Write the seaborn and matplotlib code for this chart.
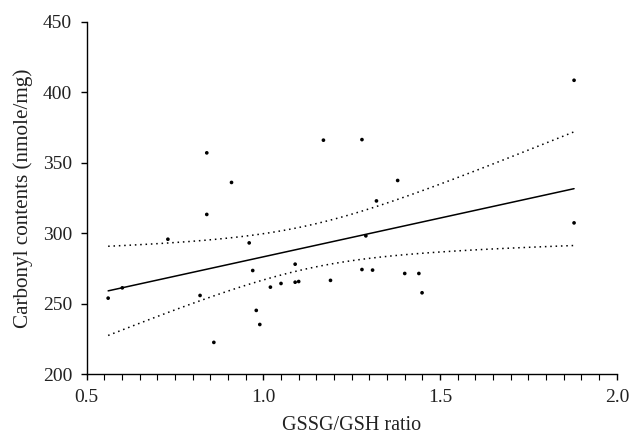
import numpy as np
import pandas as pd
import matplotlib
matplotlib.use('Agg')
import matplotlib.pyplot as plt
from matplotlib.ticker import MultipleLocator
import seaborn as sns

# GSSG/GSH ratio vs carbonyl contents
ratio = [0.561, 0.601, 0.730, 0.840, 0.840, 0.910, 0.821, 0.860, 0.960, 0.970,
         0.980, 0.990, 1.020, 1.050, 1.090, 1.090, 1.100, 1.170, 1.190, 1.279,
         1.279, 1.290, 1.309, 1.320, 1.380, 1.400, 1.440, 1.449, 1.879, 1.879]
carbonyl = [253.9, 261.2, 295.7, 357.0, 313.3, 336.0, 255.8, 222.5, 293.1, 273.5,
            245.2, 235.2, 261.7, 264.3, 278.0, 265.2, 265.7, 366.0, 266.5, 366.4,
            274.2, 298.1, 273.8, 322.9, 337.4, 271.4, 271.4, 257.7, 408.5, 307.3]
x_ticks = [0.5, 1.0, 1.5, 2.0]
y_ticks = [200, 250, 300, 350, 400, 450]

df = pd.DataFrame({'ratio': ratio, 'carbonyl': carbonyl})

# least squares fit + 95% confidence band of the mean
x = df['ratio'].values
y = df['carbonyl'].values
n = len(x)
b1, b0 = np.polyfit(x, y, 1)
resid = y - (b0 + b1 * x)
s = np.sqrt(np.sum(resid ** 2) / (n - 2))
t_crit = 2.048  # t(0.975, df=28)
xs = np.linspace(x.min(), x.max(), 100)
yhat = b0 + b1 * xs
se = s * np.sqrt(1 / n + (xs - x.mean()) ** 2 / np.sum((x - x.mean()) ** 2))
fit = pd.DataFrame({'x': xs, 'fit': yhat, 'lo': yhat - t_crit * se, 'hi': yhat + t_crit * se})

sns.set_style('ticks')
plt.rcParams['font.family'] = ['Liberation Serif', 'DejaVu Serif']
plt.rcParams['font.size'] = 13

fig = plt.figure(figsize=(6.32, 4.36), dpi=100)
ax = fig.add_axes([0.137, 0.142, 0.839, 0.808])

sns.scatterplot(data=df, x='ratio', y='carbonyl', ax=ax, color='black', s=7,
                edgecolor='none', zorder=3)
sns.lineplot(data=fit, x='x', y='fit', ax=ax, color='black', lw=1.1)
sns.lineplot(data=fit, x='x', y='lo', ax=ax, color='black', lw=1.1, linestyle=(0, (1, 2.5)))
sns.lineplot(data=fit, x='x', y='hi', ax=ax, color='black', lw=1.1, linestyle=(0, (1, 2.5)))

ax.set_xlim(0.5, 2.0)
ax.set_ylim(200, 450)
ax.set_xticks(x_ticks)
ax.set_xticklabels([f'{v:.1f}' for v in x_ticks])
ax.set_yticks(y_ticks)
ax.xaxis.set_minor_locator(MultipleLocator(0.05))
ax.tick_params(axis='both', which='major', length=4, width=1, pad=6.5, labelsize=14,
               color='black', labelcolor='#222222')
ax.tick_params(axis='x', which='minor', length=4, width=0.8, color='black')
ax.set_xlabel('GSSG/GSH ratio', fontsize=14.5, color='#222222', labelpad=7.5)
ax.set_ylabel('Carbonyl contents (nmole/mg)', fontsize=15.2, color='#222222', labelpad=7)
sns.despine(ax=ax)
for sp in ['left', 'bottom']:
    ax.spines[sp].set_color('black')
    ax.spines[sp].set_linewidth(1)

fig.savefig('out.png', dpi=100, facecolor='white')
